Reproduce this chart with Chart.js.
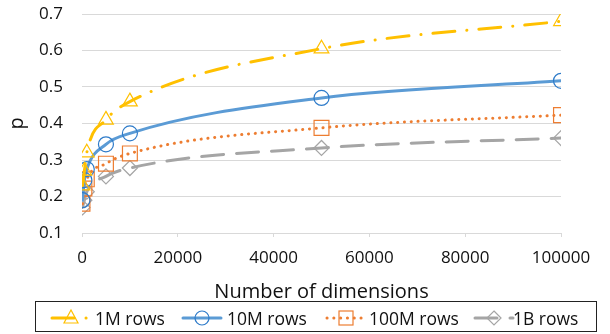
<!DOCTYPE html>
<html>
<head>
<meta charset="utf-8">
<script src="https://cdn.jsdelivr.net/npm/chart.js@4.4.1/dist/chart.umd.min.js"></script>
<style>
  html, body { margin: 0; padding: 0; background: #fff; }
  #wrap { position: relative; width: 610px; height: 334px; font-family: "Open Sans", sans-serif; }
  #legendBox {
    position: absolute; left: 35px; top: 301px; width: 562px; height: 31px;
    border: 1px solid #222; box-sizing: border-box;
  }
  .sample { position: absolute; top: 308px; }
  .label { position: absolute; top: 305px; height: 26px; line-height: 26px; font-size: 17.5px; color: #111; white-space: nowrap; }
</style>
</head>
<body>
<div id="wrap">
  <canvas id="chart" width="610" height="334"></canvas>
  <div id="legendBox"></div>
</div>
<script>
// Number of dimensions (x) and p values per table size
const dims = [100, 500, 1000, 5000, 10000, 50000, 100000];
const rows1M   = [0.23, 0.27, 0.32, 0.41, 0.46, 0.605, 0.68];
const rows10M  = [0.19, 0.245, 0.275, 0.343, 0.373, 0.47, 0.517];
const rows100M = [0.18, 0.222, 0.247, 0.29, 0.318, 0.388, 0.423];
const rows1B   = [0.17, 0.19, 0.213, 0.255, 0.278, 0.333, 0.36];
const seriesNames = ['1M rows', '10M rows', '100M rows', '1B rows'];
const xTicks = [0, 20000, 40000, 60000, 80000, 100000];
const yTicks = [0.1, 0.2, 0.3, 0.4, 0.5, 0.6, 0.7];

const styles = [
    { color: '#FFC000', marker: '#FFC000', shape: 'triangle', radius: 8.5, dash: [22, 12, 0.1, 12] },
    { color: '#5B9BD5', marker: '#2E7BC9', shape: 'circle', radius: 7.5, dash: [] },
    { color: '#ED7D31', marker: '#ED7D31', shape: 'rect', radius: 10.5, dash: [0.1, 6.7] },
    { color: '#A5A5A5', marker: '#A5A5A5', shape: 'rectRot', radius: 7.5, dash: [22, 13] }
];
const values = [rows1M, rows10M, rows100M, rows1B];

const fontFamily = '"Open Sans", sans-serif';

const datasets = values.map(function(vals, i) {
    const s = styles[i];
    return {
        label: seriesNames[i],
        data: dims.map(function(d, j) { return { x: d, y: vals[j] }; }),
        borderColor: s.color,
        borderWidth: 3,
        borderDash: s.dash,
        borderCapStyle: 'round',
        cubicInterpolationMode: 'monotone',
        pointStyle: s.shape,
        pointRadius: s.radius,
        pointBorderColor: s.marker,
        pointBorderWidth: 1.2,
        pointBackgroundColor: 'rgba(0,0,0,0)',
        fill: false,
        order: i
    };
});

// keep the axes from pushing the plot area around
function noScalePadding(scale) {
    scale.paddingTop = 0;
    scale.paddingBottom = 0;
    scale.paddingLeft = 0;
    scale.paddingRight = 0;
}

new Chart(document.getElementById('chart').getContext('2d'), {
    type: 'line',
    data: { datasets: datasets },
    options: {
        responsive: false,
        animation: false,
        layout: { autoPadding: false, padding: { left: 0, right: 49, top: 14, bottom: 30 } },
        plugins: { legend: { display: false }, tooltip: { enabled: false } },
        scales: {
            x: {
                type: 'linear',
                min: 0,
                max: 100000,
                afterBuildTicks: function(scale) {
                    scale.ticks = xTicks.map(function(v) { return { value: v }; });
                },
                afterFit: function(scale) { scale.height = 71; noScalePadding(scale); },
                grid: { drawOnChartArea: false, drawTicks: true, tickLength: 4, color: '#D9D9D9' },
                border: { display: true, color: '#D9D9D9', width: 1 },
                ticks: {
                    color: '#111', padding: 11, maxRotation: 0,
                    font: { family: fontFamily, size: 17 },
                    callback: function(v) { return String(v); }
                },
                title: {
                    display: true, text: 'Number of dimensions', color: '#111',
                    font: { family: fontFamily, size: 20 },
                    padding: { top: 0, bottom: 0 }
                }
            },
            y: {
                min: 0.1,
                max: 0.7,
                afterBuildTicks: function(scale) {
                    scale.ticks = yTicks.map(function(v) { return { value: v }; });
                },
                afterFit: function(scale) { scale.width = 82; noScalePadding(scale); },
                grid: { color: '#D9D9D9', drawTicks: false, lineWidth: 1 },
                border: { display: false },
                ticks: {
                    color: '#111', padding: 19,
                    font: { family: fontFamily, size: 17 },
                    callback: function(v) { return v.toFixed(1); }
                },
                title: {
                    display: true, text: 'p', color: '#111',
                    font: { family: fontFamily, size: 20 },
                    padding: { top: 5, bottom: 0 }
                }
            }
        }
    }
});

// Legend: line sample with marker (inline svg) plus real text labels
function markerSvg(shape, color, cx, cy) {
    if (shape === 'triangle') {
        return '<polygon points="' + cx + ',' + (cy - 8) + ' ' + (cx - 7) + ',' + (cy + 5) + ' ' + (cx + 7) + ',' + (cy + 5) + '" fill="none" stroke="' + color + '" stroke-width="1.2"/>';
    }
    if (shape === 'circle') {
        return '<circle cx="' + cx + '" cy="' + cy + '" r="7" fill="none" stroke="' + color + '" stroke-width="1.2"/>';
    }
    if (shape === 'rect') {
        return '<rect x="' + (cx - 7) + '" y="' + (cy - 7) + '" width="14" height="14" fill="none" stroke="' + color + '" stroke-width="1.2"/>';
    }
    return '<polygon points="' + cx + ',' + (cy - 7) + ' ' + (cx + 7) + ',' + cy + ' ' + cx + ',' + (cy + 7) + ' ' + (cx - 7) + ',' + cy + '" fill="none" stroke="' + color + '" stroke-width="1.2"/>';
}

const sampleLeft = [50, 181, 325, 473];
const labelLeft = [95, 227, 369, 513];
const wrap = document.getElementById('wrap');
seriesNames.forEach(function(name, i) {
    const s = styles[i];
    const dash = s.dash.length ? s.dash.join(' ') : 'none';
    const sample = document.createElement('div');
    sample.className = 'sample';
    sample.style.left = sampleLeft[i] + 'px';
    sample.innerHTML = '<svg width="42" height="20"><line x1="2" y1="10" x2="40" y2="10" stroke="' + s.color +
        '" stroke-width="3" stroke-linecap="round" stroke-dasharray="' + dash + '"/>' +
        markerSvg(s.shape, s.marker, 21, 10) + '</svg>';
    wrap.appendChild(sample);

    const label = document.createElement('div');
    label.className = 'label';
    label.style.left = labelLeft[i] + 'px';
    label.textContent = name;
    wrap.appendChild(label);
});
</script>
</body>
</html>
